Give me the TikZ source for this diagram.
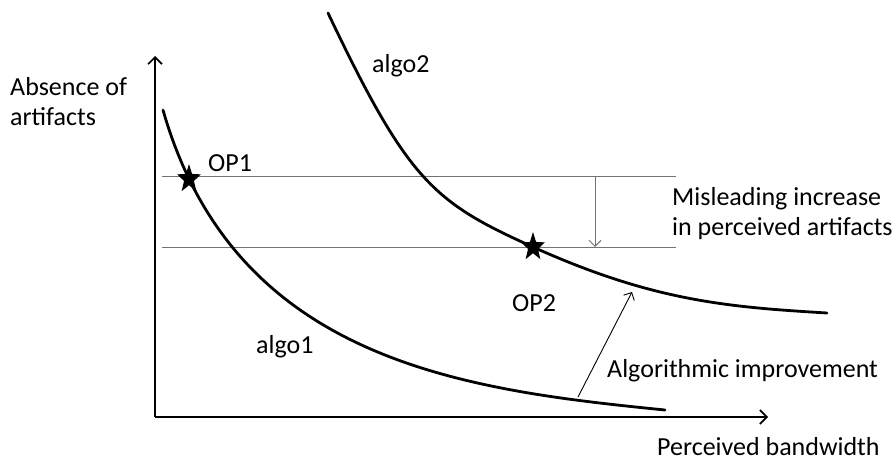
\documentclass[tikz,border=0pt]{standalone}
\usepackage{fontspec}
\setmainfont{Carlito}
\usetikzlibrary{shapes.geometric,arrows.meta}
\begin{document}
\begin{tikzpicture}[x=1pt,y=-1pt,
  lbl/.style={font=\fontsize{26}{31}\selectfont, inner sep=0pt, anchor=base west},
  curve/.style={line width=2.8pt, line cap=round},
  axis/.style={line width=1.6pt, -{Straight Barb[length=7pt,width=14pt,line width=1.6pt]}},
  guide/.style={line width=0.9pt, black!55},
  starmark/.style={star, star points=5, star point ratio=2.4, fill=black, draw=none, minimum size=25pt, inner sep=0pt, transform shape, yscale=1.2}]
\useasboundingbox (0,0) rectangle (895,471);
% axes
\coordinate (origin) at (155,417);
\coordinate (ytop) at (155,56);
\coordinate (xend) at (768,417);
\draw[axis] (origin) -- (ytop);
\draw[axis] (origin) -- (xend);
% guide lines
\coordinate (g1a) at (162,176); \coordinate (g1b) at (676,176);
\coordinate (g2a) at (162,247); \coordinate (g2b) at (676,247);
\draw[guide] (g1a) -- (g1b);
\draw[guide] (g2a) -- (g2b);
\coordinate (va) at (595,176); \coordinate (vb) at (595,247);
\draw[guide, -{Straight Barb[length=6pt,width=12pt,line width=0.9pt]}] (va) -- (vb);
% curves
\draw[curve] (163,110) .. controls (235,362) and (465,390) .. (665,410);
\draw[curve] (328,13) .. controls (408,181) and (433,202) .. (533,247)
  .. controls (653,301) and (727,307) .. (827,313);
% stars
\node[starmark] (op1star) at (189,179) {};
\node[starmark] (op2star) at (533,247) {};
% improvement arrow
\coordinate (ia) at (578,397); \coordinate (ib) at (632,292);
\draw[line width=0.9pt, -{Straight Barb[length=6pt,width=12pt,line width=0.9pt]}] (ia) -- (ib);
% labels
\node[lbl] (yl1) at (10,95) {Absence of};
\node[lbl] (yl2) at (10,125) {artifacts};
\node[lbl] (a2) at (372,72) {algo2};
\node[lbl] (op1) at (208,171) {OP1};
\node[lbl] (op2) at (512,311) {OP2};
\node[lbl] (a1) at (256,353) {algo1};
\node[lbl] (m1) at (672,205) {Misleading increase};
\node[lbl] (m2) at (672,235) {in perceived artifacts};
\node[lbl] (ai) at (607,377) {Algorithmic improvement};
\node[lbl] (xl) at (657,455) {Perceived bandwidth};
\end{tikzpicture}
\end{document}
